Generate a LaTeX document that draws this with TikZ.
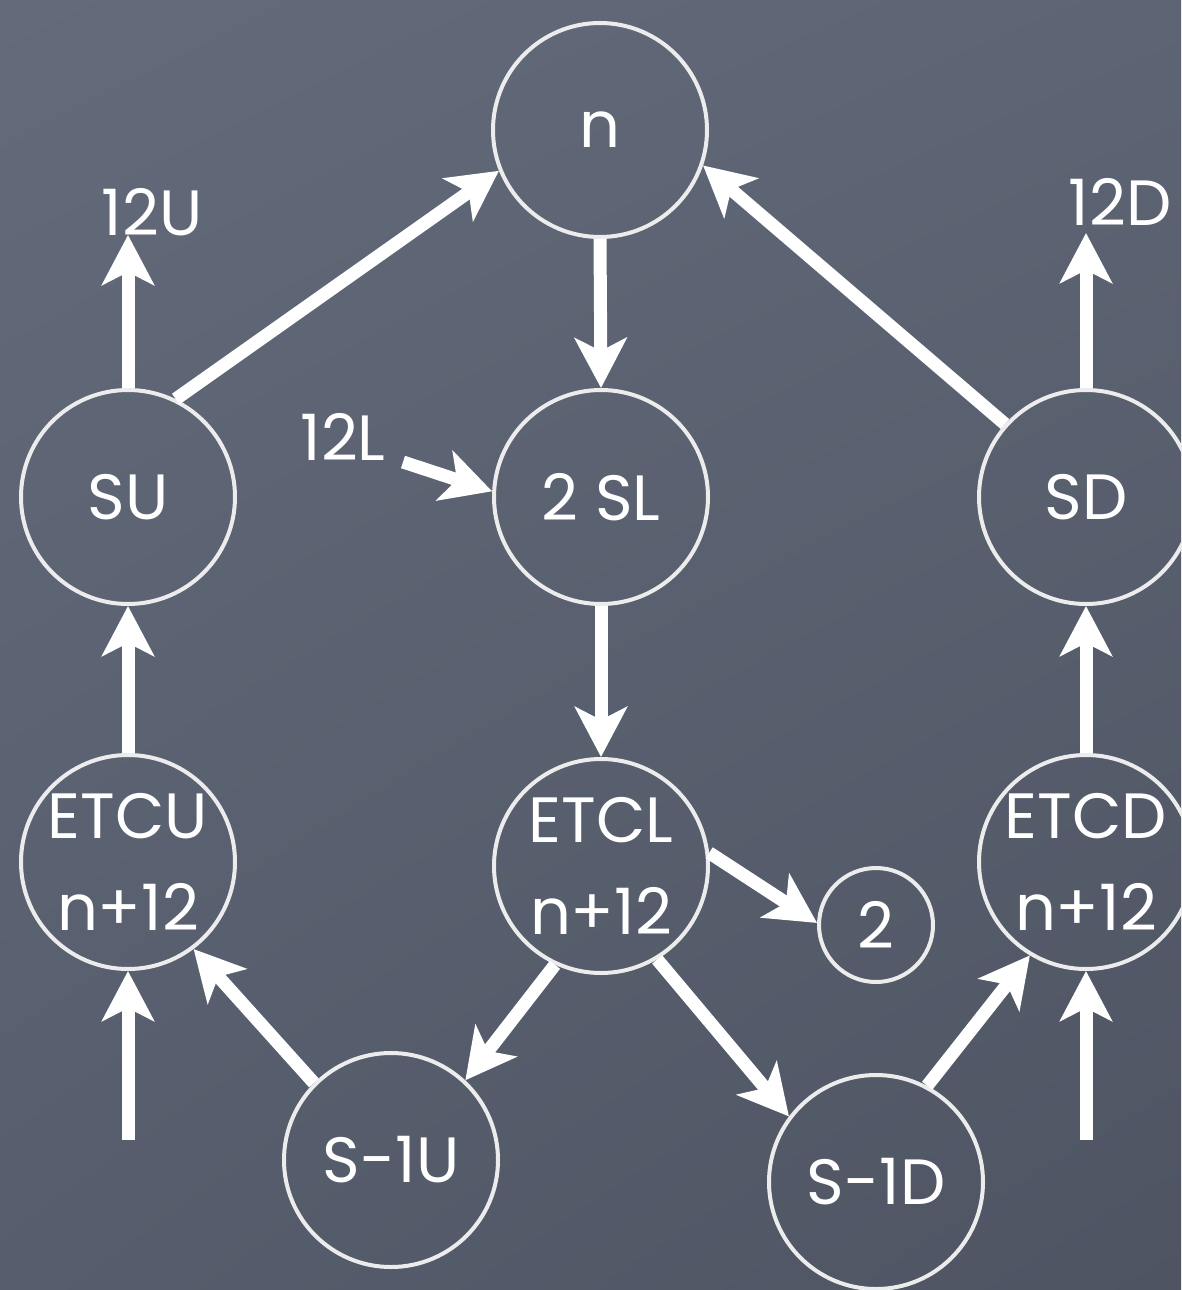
\documentclass[tikz,border=0pt]{standalone}
\usepackage{fontspec}
\setmainfont{Poppins}
\usetikzlibrary{arrows.meta,shadings}
\definecolor{boardUL}{RGB}{99,106,121}
\definecolor{boardUR}{RGB}{93,100,115}
\definecolor{boardLL}{RGB}{86,93,108}
\definecolor{boardLR}{RGB}{78,84,98}
\definecolor{chalk}{RGB}{236,236,236}
\begin{document}
\begin{tikzpicture}[x=1pt,y=-1pt,
  state/.style={circle,draw=chalk,line width=4pt,minimum size=214pt,inner sep=0pt,
    text=white,font=\fontsize{64}{92}\selectfont,align=center},
  smallstate/.style={state,minimum size=114pt},
  flow/.style={draw=white,line width=13pt,-{Stealth[length=50pt,width=52pt,inset=13pt]}},
  lbl/.style={text=white,font=\fontsize{64}{72}\selectfont,inner sep=0pt}]
\useasboundingbox (0,0) rectangle (1181,1290);
% chalkboard
\shade[upper left=boardUL,upper right=boardUR,lower left=boardLL,lower right=boardLR]
  (0,0) rectangle (1181,1290);

% states
\node[state] (n)    at (600,130)  {n};
\node[state] (SU)   at (128,497)  {SU};
\node[state] (SL)   at (601,497)  {2 SL};
\node[state] (SD)   at (1086,497) {SD};
\node[state] (ETCU) at (128,862)  {ETCU\\n+12};
\node[state] (ETCL) at (601,866)  {ETCL\\n+12};
\node[state] (ETCD) at (1086,862) {ETCD\\n+12};
\node[state] (S1U)  at (391,1160) {S-1U};
\node[state] (S1D)  at (876,1182) {S-1D};
\node[smallstate] (two) at (876,925) {2};

% free labels and loose ends
\node[lbl] (L12U) at (152,212) {12U};
\node[lbl] (L12D) at (1120,202) {12D};
\node[lbl] (L12L) at (343,437) {12L};
\coordinate (tU) at (128,235);
\coordinate (tD) at (1086,233);
\coordinate (fL) at (403,462);
\coordinate (inU) at (128,1140);
\coordinate (inD) at (1086,1140);

% transitions
\draw[flow] (SU.north) -- (tU);
\draw[flow] (SD.north) -- (tD);
\draw[flow] (SU.64) -- (n.202);
\draw[flow] (SD.138) -- (n.341);
\draw[flow] (n.south) -- (SL.north);
\draw[flow] (fL) -- (SL.177);
\draw[flow] (SL.south) -- (ETCL.north);
\draw[flow] (ETCU.north) -- (SU.south);
\draw[flow] (ETCD.north) -- (SD.south);
\draw[flow] (ETCL.7) -- (two.178);
\draw[flow] (ETCL.245) -- (S1U.47);
\draw[flow] (ETCL.301) -- (S1D.143);
\draw[flow] (S1U.135) -- (ETCU.307);
\draw[flow] (S1D.62) -- (ETCD.239);
\draw[flow] (inU) -- (ETCU.south);
\draw[flow] (inD) -- (ETCD.south);
\end{tikzpicture}
\end{document}
